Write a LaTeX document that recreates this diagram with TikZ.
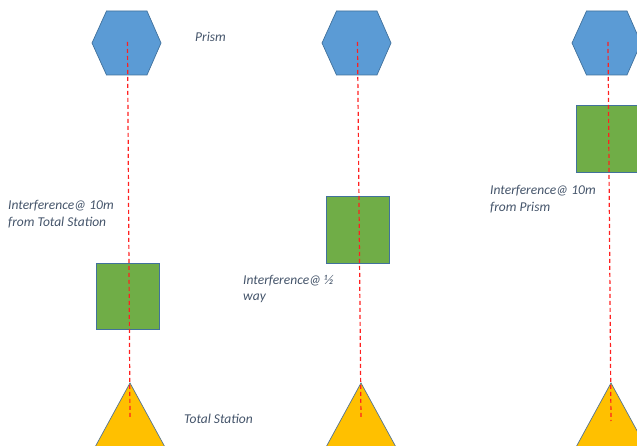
\documentclass[tikz,border=0pt]{standalone}
\usepackage{fontspec}
\setmainfont{Carlito}
\definecolor{hexblue}{HTML}{5B9BD5}
\definecolor{edgeblue}{HTML}{41719C}
\definecolor{boxgreen}{HTML}{70AD47}
\definecolor{triyellow}{HTML}{FFC000}
\definecolor{labelgray}{HTML}{44546A}
\definecolor{dashred}{HTML}{FF2020}
\tikzset{
  hexshape/.style={fill=hexblue, draw=edgeblue, line width=0.7pt},
  boxshape/.style={fill=boxgreen, draw=edgeblue, line width=0.7pt},
  trishape/.style={fill=triyellow, draw=edgeblue!70!gray, line width=0.7pt},
  sightline/.style={draw=dashred, line width=1.2pt, dash pattern=on 4pt off 3pt},
  lbl/.style={font=\fontsize{13.5}{17}\selectfont\itshape, text=labelgray, anchor=base west, inner sep=0pt, align=left}
}
\begin{document}
\begin{tikzpicture}[x=1pt,y=-1pt]
\useasboundingbox (0,0) rectangle (637,446);
\clip (0,0) rectangle (637,446);
% hexagons (prisms)
\foreach \cx/\nm in {126.5/h1,356.5/h2,606.5/h3}{
  \draw[hexshape] (\cx-34.5,43) -- (\cx-20,11) -- (\cx+20.5,11) -- (\cx+34.5,43) -- (\cx+20.5,75) -- (\cx-20,75) -- cycle;
}
% squares
\draw[boxshape] (96,263) rectangle (159,329);
\draw[boxshape] (326,196) rectangle (389,263);
\draw[boxshape] (576,105) rectangle (639,172);
% triangles
\foreach \ax in {130,361,611}{
  \draw[trishape] (\ax,383) -- (\ax+42,460) -- (\ax-42,460) -- cycle;
}
% sight line end points
\coordinate (p1) at (127.5,42);
\coordinate (t1) at (130,419);
\coordinate (p2) at (357.5,42);
\coordinate (t2) at (361,419);
\coordinate (p3) at (608,42);
\coordinate (t3) at (611,421);
\draw[sightline] (p1) -- (t1);
\draw[sightline] (p2) -- (t2);
\draw[sightline] (p3) -- (t3);
% labels
\node[lbl] (prism) at (195,41.5) {Prism};
\node[lbl] (int1) at (8,227) {Interference@ 10m\\from Total Station};
\node[lbl] (int2) at (243,301) {Interference@ ½\\way};
\node[lbl] (int3) at (490,212) {Interference@ 10m\\from Prism};
\node[lbl] (ts) at (184,423) {Total Station};
\end{tikzpicture}
\end{document}
